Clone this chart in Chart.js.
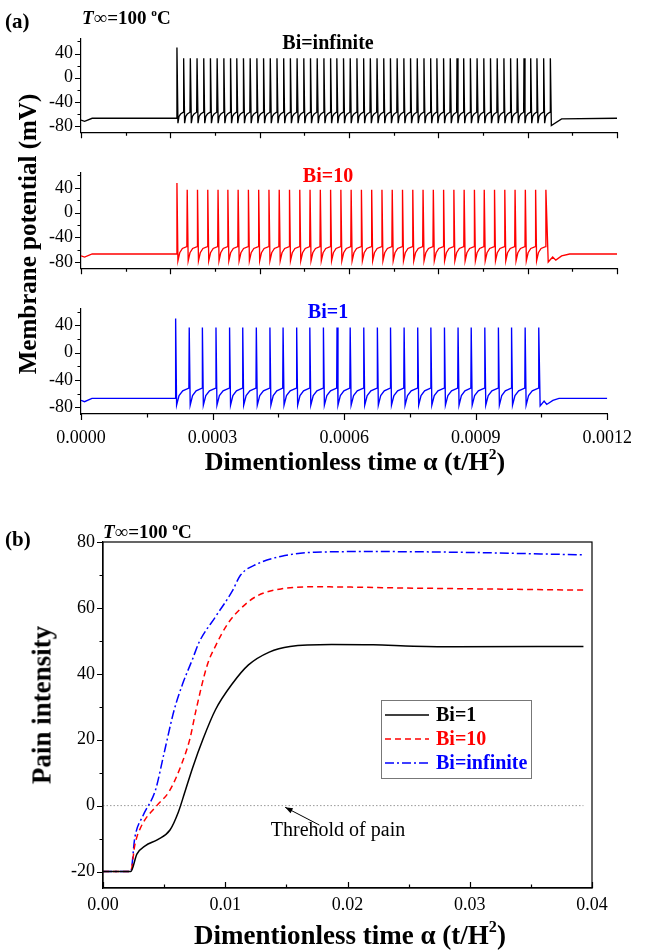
<!doctype html>
<html lang="en">
<head>
<meta charset="utf-8">
<title>Membrane potential and pain intensity, T = 100 °C</title>
<script src="https://cdn.jsdelivr.net/npm/chart.js@4.4.1/dist/chart.umd.min.js"></script>
<style>
    body {
        margin: 0;
        background: #fff;
    }

    #page {
        position: relative;
        width: 645px;
        height: 952px;
        overflow: hidden;
        font-family: 'Liberation Serif', 'Times New Roman', serif;
    }

    canvas {
        position: absolute;
        left: 0;
    }

    .lbl {
        position: absolute;
        font-weight: bold;
        white-space: nowrap;
        line-height: 1;
    }

    .mid {
        transform: translate(-50%, -50%);
    }

    .rot {
        transform: translate(-50%, -50%) rotate(-90deg);
    }

    sup {
        font-size: 60%;
        vertical-align: 0.7em;
        line-height: 0;
    }
</style>
</head>

<body>
<div id="page">
    <canvas id="trainInf" width="645" height="151" style="top:0px"></canvas>
    <canvas id="train10" width="645" height="136" style="top:151px"></canvas>
    <canvas id="train1" width="645" height="162" style="top:288px"></canvas>
    <canvas id="pain" width="645" height="398" style="top:520px"></canvas>

    <div class="lbl" style="left:5px;top:11px;font-size:21px">(a)</div>
    <div class="lbl" style="left:82px;top:8px;font-size:19px"><i>T</i><i>&infin;</i>=100 <sup>o</sup>C</div>
    <div class="lbl mid" style="left:328px;top:42px;font-size:20px;color:#000">Bi=infinite</div>
    <div class="lbl mid" style="left:328px;top:175px;font-size:20px;color:#f00">Bi=10</div>
    <div class="lbl mid" style="left:328px;top:311px;font-size:20px;color:#00f">Bi=1</div>
    <div class="lbl rot" style="left:27px;top:234px;font-size:25px">Membrane potential (mV)</div>
    <div class="lbl mid" style="left:355px;top:462px;font-size:26px">Dimentionless time &alpha; (t/H<sup>2</sup>)</div>

    <div class="lbl" style="left:5px;top:529px;font-size:21px">(b)</div>
    <div class="lbl" style="left:103px;top:522px;font-size:19px"><i>T</i><i>&infin;</i>=100 <sup>o</sup>C</div>
    <div class="lbl rot" style="left:42px;top:705px;font-size:27px">Pain intensity</div>
    <div class="lbl mid" style="left:350px;top:935px;font-size:27px">Dimentionless time &alpha; (t/H<sup>2</sup>)</div>
    <div class="lbl mid" style="left:338px;top:829px;font-size:20px;font-weight:normal">Threhold of pain</div>
</div>

<script>
    // ---- (a) membrane potential, time in units of 1e-4 ----
    var blackSpikes = [2.14, 2.29, 2.44, 2.59, 2.74, 2.89, 3.04, 3.19, 3.34, 3.48, 3.63, 3.78, 3.93, 4.08, 4.23,
        4.38, 4.53, 4.68, 4.83, 4.98, 5.13, 5.28, 5.43, 5.58, 5.72, 5.87, 6.02, 6.17, 6.32, 6.47, 6.62, 6.77,
        6.92, 7.07, 7.22, 7.37, 7.52, 7.67, 7.82, 7.96, 8.11, 8.26, 8.41, 8.56, 8.71, 8.86, 9.01, 9.16, 9.31,
        9.46, 9.61, 9.76, 9.91, 10.06, 10.20, 10.35, 10.50];
    var redSpikes = [2.14, 2.37, 2.60, 2.83, 3.06, 3.28, 3.51, 3.74, 3.97, 4.20, 4.43, 4.66, 4.89, 5.12, 5.35,
        5.58, 5.81, 6.04, 6.27, 6.50, 6.73, 6.96, 7.19, 7.42, 7.65, 7.88, 8.11, 8.34, 8.57, 8.80, 9.02, 9.25,
        9.48, 9.71, 9.94, 10.17, 10.40];
    var blueSpikes = [2.15, 2.46, 2.76, 3.07, 3.38, 3.68, 3.99, 4.30, 4.60, 4.91, 5.21, 5.52, 5.83, 6.13, 6.44,
        6.75, 7.05, 7.36, 7.67, 7.97, 8.28, 8.59, 8.89, 9.20, 9.51, 9.81, 10.12, 10.43];

    // peak of first spike, peak of the others (mV)
    var blackPeaks = [50, 32];
    var redPeaks = [48, 37];
    var bluePeaks = [50, 37];

    // after-spike trough, two recovery levels, firing level (mV)
    var blackCycle = [-75, -64, -60, -57];
    var redCycle = [-78, -65, -58, -55];
    var blueCycle = [-77, -63, -56, -52];

    // resting part before the train
    var startT = [0, 0.08, 0.25];
    var startV = [-70, -72, -67];

    // return to rest after the last spike
    var blackTailT = [10.53, 10.76, 12];
    var blackTailV = [-79, -68, -67];
    var redTailT = [10.46, 10.56, 10.63, 10.76, 10.94, 12];
    var redTailV = [-80, -72, -77, -70, -67, -67];
    var blueTailT = [10.47, 10.56, 10.62, 10.76, 10.90, 12];
    var blueTailV = [-78, -71, -76, -70, -67, -67];

    var trainXMajor = [0, 0.0002, 0.0004, 0.0006, 0.0008, 0.0010, 0.0012];
    var trainXMinor = [0.0001, 0.0003, 0.0005, 0.0007, 0.0009, 0.0011];
    var labelXMajor = [0, 0.0003, 0.0006, 0.0009, 0.0012];
    var labelXMinor = [0.00015, 0.00045, 0.00075, 0.00105];
    var trainYMajor = [-80, -40, 0, 40];
    var trainYMinor = [-60, -20, 20, 60];

    // ---- (b) pain intensity ----
    var bi1T = [0, 0.00227, 0.00277, 0.00345, 0.00447, 0.00548, 0.00616, 0.00667, 0.00734, 0.00819, 0.0092,
        0.01056, 0.0119, 0.0136, 0.0153, 0.0187, 0.0221, 0.0254, 0.0288, 0.0393];
    var bi1Pain = [-20, -20, -14.7, -12.2, -10.3, -7.4, -2, 3.8, 11.6, 20.3, 29.1, 36.9, 42.7, 46.6, 48.3, 48.9,
        48.8, 48.4, 48.2, 48.3];
    var bi10T = [0, 0.00227, 0.0026, 0.0031, 0.0044, 0.00541, 0.00643, 0.00711, 0.00761, 0.00853, 0.00921,
        0.01022, 0.01124, 0.01259, 0.01462, 0.01733, 0.0254, 0.0393];
    var bi10Pain = [-20, -20, -12, -6.5, 0, 4.3, 12.6, 20.3, 29, 42.7, 48.5, 55.3, 59.7, 63.6, 65.8, 66.4, 66,
        65.4];
    var biInfT = [0, 0.00227, 0.0026, 0.00328, 0.0043, 0.00497, 0.00582, 0.0065, 0.00734, 0.00785, 0.0092,
        0.01056, 0.01124, 0.01259, 0.01462, 0.01733, 0.0221, 0.0288, 0.0393];
    var biInfPain = [-20, -20, -9.8, -3, 4.8, 15.5, 29, 36.8, 44.6, 49.5, 57.3, 65, 69.9, 73.3, 75.7, 76.9,
        77.1, 76.9, 76.1];
    var thresholdT = [0, 0.0393];
    var thresholdPain = [0, 0];

    var painXMajor = [0, 0.01, 0.02, 0.03, 0.04];
    var painXMinor = [0.005, 0.015, 0.025, 0.035];
    var painYMajor = [-20, 0, 20, 40, 60, 80];
    var painYMinor = [-10, 10, 30, 50, 70];

    var SCALE = 1e-4;
    var peakDelay = 0.008;   // upstroke to peak
    var troughDelay = 0.03;  // upstroke to after-spike trough
    var recoverAt = [0.2, 0.5]; // where the recovery levels sit in each gap

    function spikeTrain(spikes, peaks, cycle, tailT, tailV) {
        var pts = [];
        for (var i = 0; i < startT.length; i++) {
            pts.push({ x: startT[i] * SCALE, y: startV[i] });
        }
        for (i = 0; i < spikes.length; i++) {
            var ts = spikes[i];
            pts.push({ x: ts * SCALE, y: i === 0 ? startV[startV.length - 1] : cycle[3] });
            pts.push({ x: (ts + peakDelay) * SCALE, y: i === 0 ? peaks[0] : peaks[1] });
            if (i < spikes.length - 1) {
                var t0 = ts + troughDelay;
                var gap = spikes[i + 1] - t0;
                pts.push({ x: t0 * SCALE, y: cycle[0] });
                pts.push({ x: (t0 + recoverAt[0] * gap) * SCALE, y: cycle[1] });
                pts.push({ x: (t0 + recoverAt[1] * gap) * SCALE, y: cycle[2] });
            }
        }
        for (i = 0; i < tailT.length; i++) {
            pts.push({ x: tailT[i] * SCALE, y: tailV[i] });
        }
        return pts;
    }

    function pairs(xs, ys) {
        return xs.map(function(x, i) {
            return { x: x, y: ys[i] };
        });
    }

    // tick marks and frame, placed through the chart scales
    var axisMarks = {
        id: 'axisMarks',
        afterDraw: function(chart, args, o) {
            var ctx = chart.ctx;
            var a = chart.chartArea;
            var xs = chart.scales.x;
            var ys = chart.scales.y;
            ctx.save();
            ctx.strokeStyle = '#000';
            ctx.lineWidth = 1.2;
            ctx.beginPath();
            function xTick(v, len) {
                var px = Math.round(xs.getPixelForValue(v)) + 0.5;
                ctx.moveTo(px, a.bottom);
                ctx.lineTo(px, a.bottom + o.xDir * len);
            }
            function yTick(v, len) {
                var py = Math.round(ys.getPixelForValue(v)) + 0.5;
                ctx.moveTo(a.left, py);
                ctx.lineTo(a.left - len, py);
            }
            o.xMajor.forEach(function(v) { xTick(v, 6); });
            o.xMinor.forEach(function(v) { xTick(v, 3.5); });
            o.yMajor.forEach(function(v) { yTick(v, 6); });
            o.yMinor.forEach(function(v) { yTick(v, 3.5); });
            ctx.stroke();
            if (o.box) {
                ctx.strokeRect(a.left, a.top, a.right - a.left, a.bottom - a.top);
            }
            if (o.arrow) {
                // arrow from the threshold note to the dotted line
                var hx = xs.getPixelForValue(o.arrow[0]), hy = ys.getPixelForValue(o.arrow[1]);
                var tx = xs.getPixelForValue(o.arrow[2]), ty = ys.getPixelForValue(o.arrow[3]);
                var ang = Math.atan2(hy - ty, hx - tx);
                ctx.lineWidth = 1;
                ctx.beginPath();
                ctx.moveTo(tx, ty);
                ctx.lineTo(hx, hy);
                ctx.stroke();
                ctx.beginPath();
                ctx.moveTo(hx, hy);
                ctx.lineTo(hx - 8 * Math.cos(ang - 0.35), hy - 8 * Math.sin(ang - 0.35));
                ctx.lineTo(hx - 8 * Math.cos(ang + 0.35), hy - 8 * Math.sin(ang + 0.35));
                ctx.closePath();
                ctx.fillStyle = '#000';
                ctx.fill();
            }
            if (o.legend) {
                var L = o.legend;
                var x0 = a.left + L.left, y0 = a.top + L.top;
                ctx.lineWidth = 1;
                ctx.strokeStyle = '#777';
                ctx.strokeRect(x0 + 0.5, y0 + 0.5, L.width, L.height);
                ctx.font = 'bold 20px "Liberation Serif", serif';
                ctx.textBaseline = 'middle';
                chart.data.datasets.forEach(function(ds, i) {
                    if (ds.noLegend) return;
                    var ry = y0 + L.first + i * L.step;
                    ctx.strokeStyle = ds.borderColor;
                    ctx.lineWidth = ds.borderWidth;
                    ctx.setLineDash(ds.borderDash || []);
                    ctx.beginPath();
                    ctx.moveTo(x0 + 4, ry);
                    ctx.lineTo(x0 + 48, ry);
                    ctx.stroke();
                    ctx.setLineDash([]);
                    ctx.fillStyle = ds.borderColor;
                    ctx.fillText(ds.label, x0 + 55, ry + 1);
                });
            }
            ctx.restore();
        }
    };

    Chart.defaults.font.family = "'Liberation Serif', 'Times New Roman', serif";
    Chart.defaults.font.size = 18;
    Chart.defaults.color = '#000';

    function chartOptions(c) {
        return {
            responsive: false,
            animation: false,
            events: [],
            layout: { padding: { top: c.top, right: c.right, left: 0, bottom: 0 } },
            plugins: {
                legend: { display: false },
                tooltip: { enabled: false },
                axisMarks: c.marks
            },
            elements: { point: { radius: 0 } },
            scales: {
                x: {
                    type: 'linear',
                    min: c.xMin,
                    max: c.xMax,
                    grid: { display: false, drawTicks: false },
                    border: { color: '#000', width: 1.2 },
                    ticks: {
                        display: c.xLabels,
                        padding: c.xPad,
                        maxRotation: 0,
                        callback: function(v) { return v.toFixed(c.xDigits); }
                    },
                    afterBuildTicks: function(s) {
                        s.ticks = c.marks.xLabelled.map(function(v) { return { value: v }; });
                    },
                    afterFit: function(s) { s.height = c.xHeight; }
                },
                y: {
                    min: c.yMin,
                    max: c.yMax,
                    grid: { display: false, drawTicks: false },
                    border: { color: '#000', width: 1.2 },
                    ticks: { padding: c.yPad },
                    afterBuildTicks: function(s) {
                        s.ticks = c.marks.yMajor.map(function(v) { return { value: v }; });
                    },
                    afterFit: function(s) { s.width = c.yWidth; }
                }
            }
        };
    }

    function trainChart(id, color, data, top, showX) {
        var marks = {
            xDir: 1,
            xMajor: showX ? labelXMajor : trainXMajor,
            xMinor: showX ? labelXMinor : trainXMinor,
            xLabelled: showX ? labelXMajor : trainXMajor,
            yMajor: trainYMajor,
            yMinor: trainYMinor
        };
        return new Chart(document.getElementById(id), {
            type: 'line',
            data: {
                datasets: [{
                    data: data,
                    borderColor: color,
                    borderWidth: 1.35,
                    tension: 0
                }]
            },
            options: chartOptions({
                top: top, right: 28, yWidth: 81,
                xMin: 0, xMax: 0.0012, xDigits: 4, xLabels: showX, xPad: 13,
                xHeight: showX ? 36 : 8,
                yMin: -90, yMax: 64, yPad: 8,
                marks: marks
            }),
            plugins: [axisMarks]
        });
    }

    trainChart('trainInf', '#000', spikeTrain(blackSpikes, blackPeaks, blackCycle, blackTailT, blackTailV), 39, false);
    trainChart('train10', '#f00', spikeTrain(redSpikes, redPeaks, redCycle, redTailT, redTailV), 22, false);
    trainChart('train1', '#00f', spikeTrain(blueSpikes, bluePeaks, blueCycle, blueTailT, blueTailV), 21, true);

    new Chart(document.getElementById('pain'), {
        type: 'line',
        data: {
            datasets: [{
                label: 'Bi=1',
                data: pairs(bi1T, bi1Pain),
                borderColor: '#000',
                borderWidth: 1.5,
                cubicInterpolationMode: 'monotone'
            }, {
                label: 'Bi=10',
                data: pairs(bi10T, bi10Pain),
                borderColor: '#f00',
                borderWidth: 1.5,
                borderDash: [6, 4],
                cubicInterpolationMode: 'monotone'
            }, {
                label: 'Bi=infinite',
                data: pairs(biInfT, biInfPain),
                borderColor: '#00f',
                borderWidth: 1.5,
                borderDash: [9, 3, 2, 3],
                cubicInterpolationMode: 'monotone'
            }, {
                label: 'Threhold of pain',
                noLegend: true,
                data: pairs(thresholdT, thresholdPain),
                borderColor: '#999',
                borderWidth: 1,
                borderDash: [1.5, 2]
            }]
        },
        options: chartOptions({
            top: 22, right: 53, yWidth: 103,
            xMin: 0, xMax: 0.04, xDigits: 2, xLabels: true, xPad: 6, xHeight: 30,
            yMin: -25, yMax: 80, yPad: 8,
            marks: {
                xDir: -1,
                xMajor: painXMajor,
                xMinor: painXMinor,
                xLabelled: painXMajor,
                yMajor: painYMajor,
                yMinor: painYMinor,
                box: true,
                arrow: [0.0149, -0.5, 0.0177, -5.9],
                legend: { left: 278, top: 158, width: 150, height: 78, first: 15, step: 24 }
            }
        }),
        plugins: [axisMarks]
    });
</script>
</body>

</html>
